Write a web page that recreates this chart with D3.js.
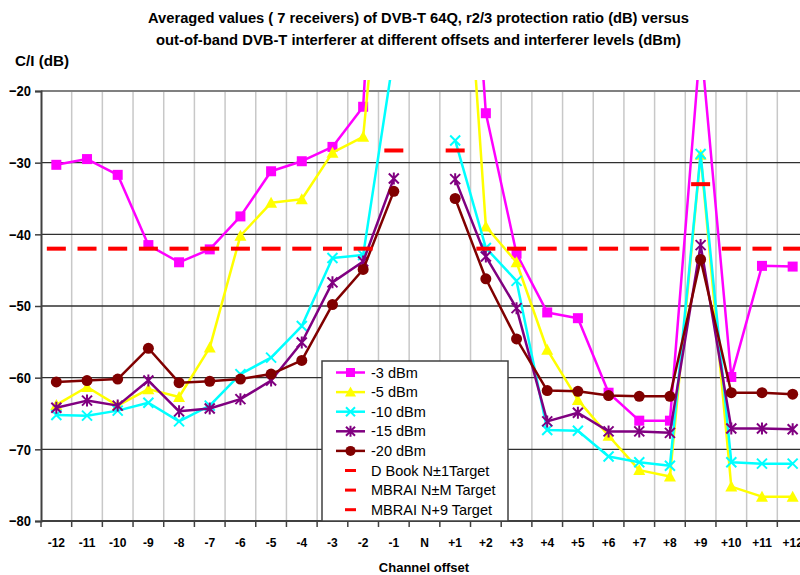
<!DOCTYPE html>
<html>
<head>
<meta charset="utf-8">
<script src="https://cdn.jsdelivr.net/npm/d3@7"></script>
<style>
  html, body { margin: 0; padding: 0; background: #fff; }
  svg { display: block; font-family: "Liberation Sans", Arial, sans-serif; }
</style>
</head>
<body>
<svg id="chart" width="800" height="575"></svg>
<script>
// ---- data ----
const categories = ["-12","-11","-10","-9","-8","-7","-6","-5","-4","-3","-2","-1","N",
                    "+1","+2","+3","+4","+5","+6","+7","+8","+9","+10","+11","+12"];
const yTicks = [-20, -30, -40, -50, -60, -70, -80];

const seriesNames = ["-3 dBm", "-5 dBm", "-10 dBm", "-15 dBm", "-20 dBm"];
const s3dBm  = [-30.3,-29.5,-31.7,-41.5,-43.9,-42.1,-37.5,-31.2,-29.8,-27.8,-22.2, 50, null, 38, -23.1,-42.7,-50.9,-51.7,-62.1,-66.0,-66.0,-13.0,-59.9,-44.4,-44.5];
const s5dBm  = [-63.8,-61.3,-63.9,-61.6,-62.7,-55.8,-40.2,-35.6,-35.1,-28.6,-26.4, 18, null, 24, -38.9,-43.9,-56.1,-63.1,-68.1,-72.9,-73.8,-28.9,-75.2,-76.6,-76.6];
const s10dBm = [-65.2,-65.3,-64.6,-63.5,-66.1,-63.9,-59.5,-57.2,-52.8,-43.3,-42.9,-15.0,null,-26.9,-41.9,-46.5,-67.3,-67.4,-71.0,-71.8,-72.3,-28.8,-71.8,-72.0,-72.0];
const s15dBm = [-64.2,-63.2,-63.9,-60.4,-64.7,-64.3,-63.0,-60.4,-55.1,-46.7,-43.8,-32.2,null,-32.3,-43.1,-50.3,-66.1,-64.9,-67.5,-67.5,-67.7,-41.5,-67.1,-67.1,-67.2];
const s20dBm = [-60.6,-60.4,-60.2,-55.9,-60.7,-60.5,-60.2,-59.5,-57.6,-49.8,-44.9,-34.0,null,-35.0,-46.2,-54.6,-61.8,-61.9,-62.5,-62.6,-62.6,-43.5,-62.1,-62.1,-62.3];

const targetNames = ["D Book N\u00B11Target", "MBRAI N\u00B1M Target", "MBRAI N+9 Target"];
const tDBook   = [null,null,null,null,null,null,null,null,null,null,null,-28.3,null,-28.3,null,null,null,null,null,null,null,null,null,null,null];
const tMbraiNM = [-42,-42,-42,-42,-42,-42,-42,-42,-42,-42,-42,null,null,null,-42,-42,-42,-42,-42,-42,-42,null,-42,-42,-42];
const tMbraiN9 = [null,null,null,null,null,null,null,null,null,null,null,null,null,null,null,null,null,null,null,null,null,-33,null,null,null];

(function () {
// ---- layout ----
const svg = d3.select("#chart");
const pLeft = 41, pRight = 808, pTop = 91, pBottom = 521;

const x = d3.scaleBand().domain(categories).range([pLeft, pRight]).paddingInner(0).paddingOuter(0);
const cx = c => x(c) + x.bandwidth() / 2;
const y = d3.scaleLinear().domain([-80, -20]).range([pBottom, pTop]);

const colors = ["#FF00FF", "#FFFF00", "#00FFFF", "#800080", "#800000"];
const markers = ["square", "triangle", "x", "star", "circle"];
const seriesData = [s3dBm, s5dBm, s10dBm, s15dBm, s20dBm];
const targetData = [tDBook, tMbraiNM, tMbraiN9];

// clip
svg.append("defs").append("clipPath").attr("id", "clip")
  .append("rect").attr("x", pLeft).attr("y", 80).attr("width", pRight - pLeft).attr("height", pBottom - 80 + 2);

// vertical gridlines (category boundaries)
const g = svg.append("g");
categories.forEach((c, i) => {
  if (i === 0) return;
  g.append("line")
    .attr("x1", x(c)).attr("x2", x(c)).attr("y1", pTop).attr("y2", pBottom)
    .attr("stroke", "#c8c8c8").attr("stroke-width", 1.5);
});
// horizontal gridlines
yTicks.forEach(t => {
  if (t === -20 || t === -80) return;
  g.append("line")
    .attr("x1", pLeft).attr("x2", pRight).attr("y1", y(t)).attr("y2", y(t))
    .attr("stroke", "#303030").attr("stroke-width", 1.3);
});
// top border
g.append("line").attr("x1", pLeft).attr("x2", pRight).attr("y1", pTop).attr("y2", pTop)
  .attr("stroke", "#808080").attr("stroke-width", 2);

// axes
const yAxis = svg.append("g").attr("transform", `translate(${pLeft},0)`)
  .call(d3.axisLeft(y).tickValues(yTicks).tickSize(6).tickPadding(4).tickFormat(d3.format("d")));
yAxis.select(".domain").attr("stroke", "#404040").attr("stroke-width", 2);
yAxis.selectAll(".tick line").attr("stroke", "#404040").attr("stroke-width", 1.5);
yAxis.selectAll(".tick text").attr("font-size", 15).attr("font-weight", "bold").attr("fill", "#000")
  .attr("font-family", "Liberation Sans, Arial, sans-serif").attr("textLength", 22).attr("lengthAdjust", "spacingAndGlyphs");

const xAxisG = svg.append("g");
xAxisG.append("line").attr("x1", pLeft).attr("x2", pRight).attr("y1", pBottom).attr("y2", pBottom)
  .attr("stroke", "#404040").attr("stroke-width", 2);
categories.forEach(c => {
  xAxisG.append("line").attr("x1", x(c)).attr("x2", x(c)).attr("y1", pBottom).attr("y2", pBottom + 6)
    .attr("stroke", "#404040").attr("stroke-width", 1.5);
  xAxisG.append("text").attr("x", cx(c)).attr("y", 547).attr("text-anchor", "middle")
    .attr("font-size", 12).attr("font-weight", "bold").text(c);
});

// series lines
const plot = svg.append("g").attr("clip-path", "url(#clip)");
const lineGen = d3.line()
  .defined(d => d.v !== null)
  .x(d => cx(d.c)).y(d => y(d.v));

function drawMarker(sel, type, color, px, py, s) {
  if (type === "square") {
    sel.append("rect").attr("x", px - s).attr("y", py - s).attr("width", 2 * s).attr("height", 2 * s).attr("fill", color);
  } else if (type === "triangle") {
    sel.append("path").attr("d", `M${px},${py - s - 1}L${px + s + 1},${py + s}L${px - s - 1},${py + s}Z`).attr("fill", color);
  } else if (type === "x") {
    sel.append("path").attr("d", `M${px - s},${py - s}L${px + s},${py + s}M${px - s},${py + s}L${px + s},${py - s}`)
      .attr("stroke", color).attr("stroke-width", 2);
  } else if (type === "star") {
    sel.append("path").attr("d", `M${px - s},${py - s}L${px + s},${py + s}M${px - s},${py + s}L${px + s},${py - s}M${px},${py - s - 1}L${px},${py + s + 1}`)
      .attr("stroke", color).attr("stroke-width", 2);
  } else if (type === "circle") {
    sel.append("circle").attr("cx", px).attr("cy", py).attr("r", s + 0.5).attr("fill", color);
  }
}

seriesData.forEach((arr, si) => {
  const pts = categories.map((c, i) => ({ c, v: arr[i] }));
  const sg = plot.append("g");
  sg.append("path").datum(pts).attr("d", lineGen)
    .attr("fill", "none").attr("stroke", colors[si]).attr("stroke-width", 2.5).attr("stroke-linejoin", "round");
  pts.forEach(p => {
    if (p.v === null) return;
    drawMarker(sg, markers[si], colors[si], cx(p.c), y(p.v), 5);
  });
});

// targets (red dash markers)
targetData.forEach(arr => {
  categories.forEach((c, i) => {
    if (arr[i] === null) return;
    plot.append("rect").attr("x", cx(c) - 9.5).attr("y", y(arr[i]) - 2).attr("width", 19).attr("height", 4).attr("fill", "#FF0000");
  });
});

// legend
const lg = svg.append("g");
lg.append("rect").attr("x", 322).attr("y", 361).attr("width", 186).attr("height", 160)
  .attr("fill", "#fff").attr("stroke", "#404040").attr("stroke-width", 1.5);
const rowY = i => 372.5 + i * 19.6;
seriesNames.forEach((n, i) => {
  const yy = rowY(i);
  lg.append("line").attr("x1", 336).attr("x2", 365).attr("y1", yy).attr("y2", yy)
    .attr("stroke", colors[i]).attr("stroke-width", 2.5);
  drawMarker(lg, markers[i], colors[i], 350.5, yy, 4.5);
  lg.append("text").attr("x", 371).attr("y", yy + 5).attr("font-size", 14.5).text(n);
});
targetNames.forEach((n, i) => {
  const yy = rowY(i + 5);
  lg.append("rect").attr("x", 345).attr("y", yy - 1.5).attr("width", 11).attr("height", 3).attr("fill", "#FF0000");
  lg.append("text").attr("x", 371).attr("y", yy + 5).attr("font-size", 14.5).text(n);
});

// titles
svg.append("text").attr("x", 418.5).attr("y", 23).attr("text-anchor", "middle")
  .attr("font-size", 14).attr("font-weight", "bold").attr("textLength", 541).attr("lengthAdjust", "spacingAndGlyphs")
  .text("Averaged values ( 7 receivers) of DVB-T 64Q, r2/3 protection ratio (dB) versus");
svg.append("text").attr("x", 418.5).attr("y", 45).attr("text-anchor", "middle")
  .attr("font-size", 14).attr("font-weight", "bold").attr("textLength", 525).attr("lengthAdjust", "spacingAndGlyphs")
  .text("out-of-band DVB-T interferer at different offsets and interferer levels (dBm)");
svg.append("text").attr("x", 15).attr("y", 66)
  .attr("font-size", 14).attr("font-weight", "bold").attr("textLength", 54).attr("lengthAdjust", "spacingAndGlyphs")
  .text("C/I (dB)");
svg.append("text").attr("x", 424).attr("y", 572).attr("text-anchor", "middle")
  .attr("font-size", 13).attr("font-weight", "bold").text("Channel offset");
})();
</script>
</body>
</html>
